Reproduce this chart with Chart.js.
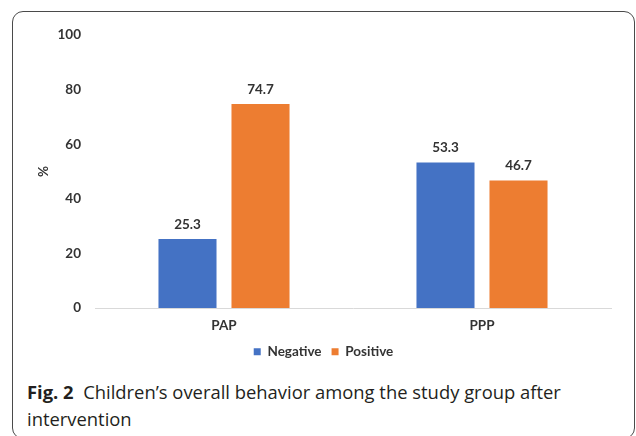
<!DOCTYPE html>
<html>
<head>
<meta charset="utf-8">
<script src="https://cdn.jsdelivr.net/npm/chart.js@4/dist/chart.umd.min.js"></script>
<style>
  html, body { margin: 0; padding: 0; background: #fff; }
  body { width: 636px; height: 436px; position: relative; overflow: hidden; }
  #frame {
    position: absolute; left: 12px; top: 11px; width: 623px; height: 428px;
    border: 1.5px solid #4a4a4a; border-radius: 11px; box-sizing: border-box;
  }
  #wrap { position: absolute; left: 0; top: 0; width: 636px; height: 372px; }
  #caption {
    position: absolute; left: 27px; top: 378px; width: 600px;
    font-family: "Open Sans", "Noto Sans", sans-serif; font-size: 18.4px;
    line-height: 27px; color: #231f20;
  }
  #caption b { font-weight: 700; }
</style>
</head>
<body>
<div id="frame"></div>
<div id="wrap"><canvas id="chart"></canvas></div>
<div id="caption"><b>Fig. 2</b>&nbsp; Children’s overall behavior among the study group after intervention</div>
<script>
const groups = ["PAP", "PPP"];
const negative = [25.3, 53.3];
const positive = [74.7, 46.7];
const yTicks = [0, 20, 40, 60, 80, 100];

const labelFont = { family: "Lato, 'Liberation Sans', sans-serif", size: 13.5, weight: "bold" };
const textColor = "#333333";

// writes each bar's value just above it
const valueLabels = {
  id: "valueLabels",
  afterDatasetsDraw(chart) {
    const ctx = chart.ctx;
    ctx.save();
    ctx.font = "bold 13.5px Lato, 'Liberation Sans', sans-serif";
    ctx.fillStyle = textColor;
    ctx.textAlign = "center";
    ctx.textBaseline = "bottom";
    chart.data.datasets.forEach((ds, i) => {
      chart.getDatasetMeta(i).data.forEach((bar, j) => {
        ctx.fillText(ds.data[j].toFixed(1), bar.x, bar.y - 8);
      });
    });
    ctx.restore();
  }
};

new Chart(document.getElementById("chart"), {
  type: "bar",
  data: {
    labels: groups,
    datasets: [
      { label: "Negative", data: negative, backgroundColor: "#4472C4" },
      { label: "Positive", data: positive, backgroundColor: "#ED7D31" }
    ]
  },
  options: {
    responsive: true,
    maintainAspectRatio: false,
    animation: false,
    categoryPercentage: 0.566,
    barPercentage: 0.795,
    layout: { padding: { left: 36, right: 25, top: 35, bottom: 7 } },
    plugins: {
      tooltip: { enabled: false },
      legend: {
        position: "bottom",
        maxHeight: 30,
        labels: {
          boxWidth: 7, boxHeight: 7, padding: 10,
          color: textColor, font: labelFont
        }
      }
    },
    scales: {
      x: {
        afterFit: (s) => { s.height = 27; },
        grid: { display: false, drawTicks: false },
        border: { display: true, color: "#d9d9d9", width: 1 },
        ticks: { color: textColor, font: labelFont, padding: 10 }
      },
      y: {
        min: 0, max: 100,
        afterBuildTicks: (s) => { s.ticks = yTicks.map(v => ({ value: v })); },
        afterFit: (s) => { s.width = 59; },
        grid: { display: false, drawTicks: false },
        border: { display: false },
        ticks: { color: textColor, font: labelFont, padding: 14 },
        title: { display: true, text: "%", color: textColor, font: labelFont, padding: 0 }
      }
    }
  },
  plugins: [valueLabels]
});
</script>
</body>
</html>
